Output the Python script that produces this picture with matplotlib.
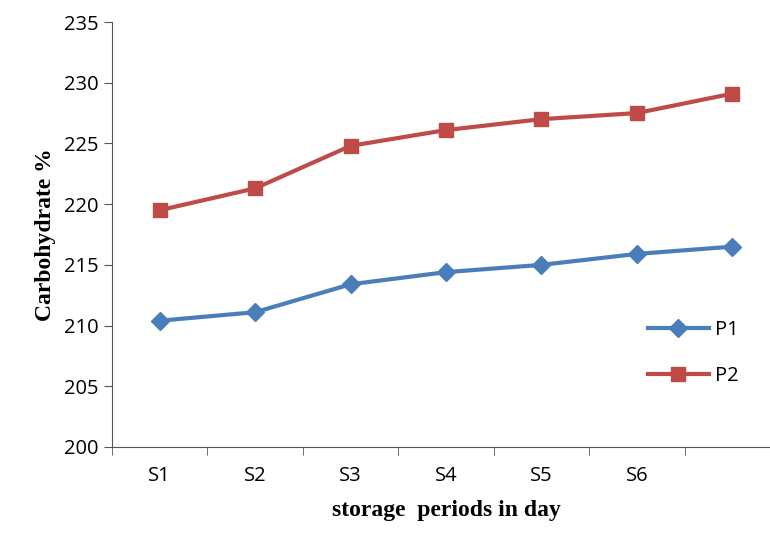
import matplotlib
matplotlib.use("Agg")
import matplotlib.pyplot as plt
import numpy as np

categories = ["S1", "S2", "S3", "S4", "S5", "S6", ""]
p1 = [210.4, 211.1, 213.4, 214.4, 215.0, 215.9, 216.5]
p2 = [219.5, 221.3, 224.8, 226.1, 227.0, 227.5, 229.1]

fig = plt.figure(figsize=(7.70, 5.37), dpi=100)
ax = fig.add_axes([112/770, 1 - 447/537, (780-112)/770, (447-22)/537])

x = np.arange(len(categories))
ax.plot(x, p1, color="#4a7ebb", lw=3, marker="D", ms=9, label="P1")
ax.plot(x, p2, color="#be4b48", lw=3, marker="s", ms=10, label="P2")

ax.set_xlim(-0.5, len(categories) - 0.5)
ax.set_ylim(200, 235)
ax.set_yticks(range(200, 236, 5))
ax.set_xticks(x)
ax.set_xticklabels(categories)
ax.set_xticks(np.arange(-0.5, len(categories), 1), minor=True)
ax.tick_params(axis="x", which="major", length=0, pad=14)
ax.tick_params(axis="x", which="minor", length=6, color="#555555")
ax.tick_params(axis="y", length=6, color="#555555")
for lbl in ax.get_xticklabels() + ax.get_yticklabels():
    lbl.set_fontfamily("Open Sans")
    lbl.set_fontsize(14.5)

ax.spines["top"].set_visible(False)
ax.spines["right"].set_visible(False)
ax.spines["left"].set_color("#555555")
ax.spines["bottom"].set_color("#555555")

ax.set_xlabel("storage  periods in day", fontfamily="Liberation Serif",
              fontweight="bold", fontsize=17, labelpad=10)
ax.set_ylabel("Carbohydrate %", fontfamily="Liberation Serif",
              fontweight="bold", fontsize=17, labelpad=6)

ax.legend(loc="lower right", bbox_to_anchor=(0.965, 0.1), frameon=False,
          prop={"family": "Open Sans", "size": 14.5}, handlelength=3,
          labelspacing=1.3, handletextpad=0.3)

fig.savefig("out.png")
